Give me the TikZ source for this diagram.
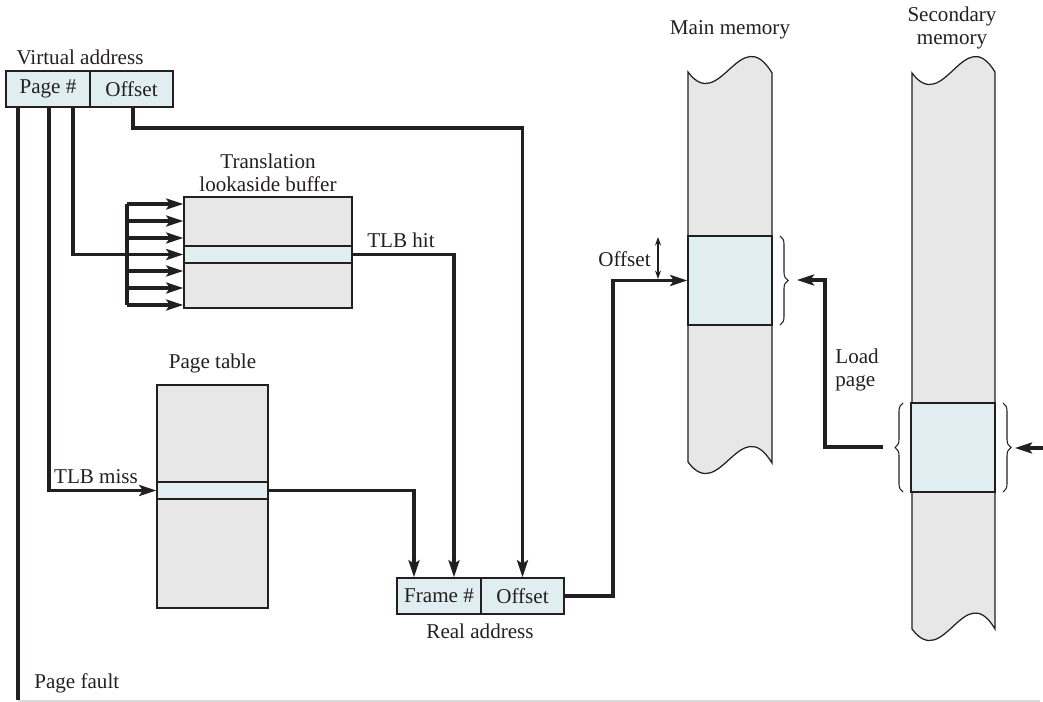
\documentclass[tikz,border=0pt]{standalone}
\usepackage{fontspec}
\setmainfont{Liberation Serif}
\usetikzlibrary{arrows.meta,decorations.pathreplacing}
\definecolor{linec}{HTML}{231F20}
\definecolor{grayf}{HTML}{E7E7E8}
\definecolor{bluef}{HTML}{E1EEF1}
\begin{document}
\begin{tikzpicture}[x=0.02cm,y=-0.02cm,
  lbl/.style={font=\fontsize{12}{13.2}\selectfont, text=linec, inner sep=0pt, align=center},
  graybox/.style={draw=linec, line width=0.9pt, fill=grayf, inner sep=0pt},
  bluebox/.style={draw=linec, line width=0.9pt, fill=bluef, inner sep=0pt, font=\fontsize{12}{13.2}\selectfont, text=linec},
  mem/.style={draw=linec, line width=0.7pt, fill=grayf},
  conn/.style={draw=linec, line width=1.8pt},
  arr/.style={conn, -{Stealth[length=0.34cm,width=0.22cm,inset=0.07cm]}},
  thinarr/.style={draw=linec, line width=0.6pt, {Stealth[length=0.17cm,width=0.12cm]}-{Stealth[length=0.17cm,width=0.12cm]}},
  brc/.style={draw=linec, line width=0.6pt, decorate, decoration={brace, amplitude=0.16cm}}
]
\useasboundingbox (0,0) rectangle (1043,702);

% ---------- Virtual address ----------
\node[lbl] (valbl) at (80,57) {Virtual address};
\node[bluebox, minimum width=1.68cm, minimum height=0.72cm] (vpage) at (48,89) {Page \#};
\node[bluebox, minimum width=1.66cm, minimum height=0.72cm] (voff) at (131.5,89) {Offset};

% ---------- TLB ----------
\node[lbl] (tlblbl) at (268,173) {Translation\\lookaside buffer};
\node[graybox, minimum width=3.36cm, minimum height=2.22cm] (tlb) at (268,252.5) {};
\node[bluebox, minimum width=3.36cm, minimum height=0.34cm] (tlbrow) at (268,254.5) {};

% ---------- Page table ----------
\node[lbl] (ptlbl) at (212.5,363) {Page table};
\node[graybox, minimum width=2.22cm, minimum height=4.46cm] (pt) at (212.5,496.5) {};
\node[bluebox, minimum width=2.22cm, minimum height=0.34cm] (ptrow) at (212.5,490.5) {};

% ---------- Real address ----------
\node[bluebox, minimum width=1.68cm, minimum height=0.72cm] (rframe) at (439,596) {Frame \#};
\node[bluebox, minimum width=1.66cm, minimum height=0.72cm] (roff) at (522.5,596) {Offset};
\node[lbl] (ralbl) at (480,631) {Real address};

% ---------- Main memory ----------
\node[lbl] (mmlbl) at (730,30) {Main memory};
\path[mem] (688,72) .. controls (720,115) and (740,20) .. (772,73)
  -- (772,463) .. controls (740,410) and (720,505) .. (688,462) -- cycle;
\node[bluebox, minimum width=1.68cm, minimum height=1.78cm] (mmpage) at (730,280.5) {};

% ---------- Secondary memory ----------
\node[lbl] (smlbl) at (952,28) {Secondary\\memory};
\path[mem] (912,73) .. controls (944,116) and (964,21) .. (995,72)
  -- (995,629) .. controls (964,577) and (944,672) .. (912,629) -- cycle;
\node[bluebox, minimum width=1.68cm, minimum height=1.78cm] (smpage) at (953,447.5) {};

% ---------- coordinates ----------
\coordinate (pfend) at (18,700);
\coordinate (bustop) at (127,204);
\coordinate (busbot) at (127,305);

% page fault line
\draw[conn] (vpage.south -| pfend) -- (pfend);
\node[lbl, anchor=west] (pflbl) at (34,683) {Page fault};
\draw[gray!30, line width=0.8pt] (18,701) -- (1040,701);

% TLB miss
\draw[arr] (vpage.south -| 49,0) |- (ptrow.west);
\node[lbl] (misslbl) at (96,477) {TLB miss};

% TLB lookup bus
\draw[conn] (vpage.south -| 73,0) |- (bustop |- tlbrow.west);
\draw[conn] (bustop) -- (busbot);
\foreach \yy in {204,221,238,254.5,271,288,305}{
  \draw[arr] (127,\yy) -- (tlb.west |- 0,\yy);
}

% TLB hit
\draw[arr] (tlbrow.east) -| (rframe.north -| 454,0);
\node[lbl] (hitlbl) at (401,240) {TLB hit};

% Page table to frame
\draw[arr] (ptrow.east) -| (rframe.north -| 414,0);

% Offset to real offset
\draw[arr] (voff.south -| 133,0) -- (133,128) -| (roff.north);

% Real address to main memory
\draw[arr] (roff.east) -- (613,596) |- (mmpage.west);
\draw[thinarr] (658,237) -- (658,279);
\node[lbl, anchor=east] (offlbl) at (651,259) {Offset};

% braces
\draw[brc] (780,236) -- (780,325);
\draw[brc] (903,492) -- (903,403);
\draw[brc] (1003,403) -- (1003,492);

% load page
\coordinate (lpstart) at (883,447);
\draw[arr] (lpstart) -- (825,447) |- (797,280);
\node[lbl, anchor=west, align=left] (lplbl) at (835,370) {Load\\page};
\coordinate (inright) at (1043,448);
\draw[arr] (inright) -- (1015,448);
\end{tikzpicture}
\end{document}
